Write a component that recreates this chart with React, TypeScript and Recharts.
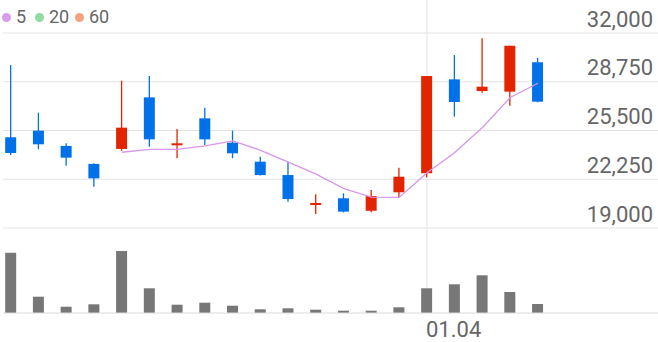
import React from "react";
import { ComposedChart, Bar, Line, XAxis, YAxis, CartesianGrid } from "recharts";

const dates = ["12.09","12.10","12.11","12.14","12.15","12.16","12.17","12.18","12.21","12.22","12.23","12.24","12.28","12.29","12.30","01.04","01.05","01.06","01.07","01.08"];
const opens = [25050, 25490, 24470, 23270, 24270, 27710, 24580, 26310, 24690, 23420, 22530, 20600, 20980, 20150, 21380, 22650, 28910, 28130, 28090, 30050];
const highs = [29870, 26690, 24650, 23310, 28820, 29130, 25600, 27020, 25490, 23750, 23420, 21250, 21310, 21530, 23020, 29130, 30530, 31650, 31150, 30350];
const lows = [23870, 24250, 23150, 21750, 24150, 24420, 23650, 24530, 23650, 22500, 20750, 19930, 20040, 20050, 21020, 22380, 26420, 28020, 27150, 27380];
const closes = [24000, 24580, 23690, 22310, 25690, 24910, 24580, 24910, 23980, 22530, 20930, 20600, 20090, 21130, 22420, 29130, 27400, 28420, 31150, 27420];
const ma5 = [null, null, null, null, 24050, 24240, 24240, 24480, 24810, 24180, 23390, 22590, 21630, 21060, 21040, 22680, 24030, 25700, 27700, 28650];
const volumes = [603, 163, 63, 87, 620, 247, 83, 103, 73, 37, 47, 33, 23, 23, 57, 247, 287, 377, 210, 90];
const priceTicks = [19000, 22250, 25500, 28750, 32000];
const dateTicks = ["01.04"];
const legendItems = [
  { name: "5", color: "#d99ce9" },
  { name: "20", color: "#8fdba0" },
  { name: "60", color: "#f6a27e" },
];

const RED = "#e32400";
const BLUE = "#0071e8";
const GRID = "#e3e3e3";
const TEXT = "#666666";
const FONT = "Roboto, 'Noto Sans', sans-serif";

const rows = dates.map((d, i) => ({
  i,
  date: d,
  open: opens[i],
  high: highs[i],
  low: lows[i],
  close: closes[i],
  ma5: ma5[i],
  volume: volumes[i],
}));

const X_DOMAIN: [number, number] = [-0.29, 23.33];
const xTickIdx = dateTicks.map((d) => dates.indexOf(d));

const scaleOf = (axis: any) => {
  const s = axis && axis.scale;
  if (typeof s === "function") return s;
  if (s && typeof s.map === "function") return (v: number) => s.map(v);
  return null;
};

const Candle = (props: any) => {
  const { x, y, width, height } = props;
  const p = props.payload ?? props;
  const { open, close, high, low } = p;
  if (x == null || y == null) return null;
  const top = Math.min(y, y + height);
  const bot = Math.max(y, y + height);
  const cx = x + width / 2;
  const up = close >= open;
  const color = up ? RED : BLUE;
  const ratio = (bot - top) / (high - low);
  const yOf = (v: number) => top + (high - v) * ratio;
  let bTop = yOf(Math.max(open, close));
  let bBot = yOf(Math.min(open, close));
  if (bBot - bTop < 2) {
    const mid = (bTop + bBot) / 2;
    bTop = mid - 1;
    bBot = mid + 1;
  }
  return (
    <g>
      <line x1={cx} x2={cx} y1={top} y2={bot} stroke={color} strokeWidth={1.3} />
      <rect x={cx - 5.5} y={bTop} width={11} height={bBot - bTop} fill={color} />
    </g>
  );
};

const PriceTick = (props: any) => {
  const { y, payload } = props;
  return (
    <g>
      <text x={653} y={y - 6.5} textAnchor="end" fill={TEXT} fontSize={22} fontFamily={FONT}>
        {Number(payload.value).toLocaleString("en-US")}
      </text>
    </g>
  );
};

const DateTick = (props: any) => {
  const { x, payload } = props;
  return (
    <text x={x - 1} y={109} textAnchor="start" fill={TEXT} fontSize={22} fontFamily={FONT}>
      {dates[payload.value]}
    </text>
  );
};

const EmptyTick = () => <g />;

export default function App() {
  return (
    <div style={{ position: "absolute", left: 0, top: 0, width: 658, height: 342, background: "#fff", fontFamily: FONT }}>
      <div style={{ position: "absolute", left: 0, top: 0 }}>
        <ComposedChart width={658} height={229} data={rows} margin={{ top: 0, right: 0, bottom: 1, left: 3 }}>
          <CartesianGrid
            stroke={GRID}
            strokeWidth={1}
            horizontalCoordinatesGenerator={({ yAxis }: any) => {
              const s = scaleOf(yAxis);
              return s ? priceTicks.map((v) => s(v)) : [];
            }}
            verticalCoordinatesGenerator={({ xAxis }: any) => {
              const s = scaleOf(xAxis);
              return s ? xTickIdx.map((v) => s(v)) : [];
            }}
          />
          <XAxis
            dataKey="i"
            type="number"
            domain={X_DOMAIN}
            allowDataOverflow
            ticks={xTickIdx}
            height={0}
            tick={<EmptyTick />}
            axisLine={false}
            tickLine={false}
          />
          <YAxis
            orientation="right"
            mirror
            width={80}
            type="number"
            domain={[19000, 34200]}
            allowDataOverflow
            ticks={priceTicks}
            interval={0}
            axisLine={false}
            tickLine={false}
            tick={<PriceTick />}
          />
          <Line
            dataKey="ma5"
            type="linear"
            stroke="#d896ea"
            strokeWidth={1.3}
            dot={false}
            activeDot={false}
            isAnimationActive={false}
          />
          <Bar
            dataKey={(d: any) => [d.low, d.high]}
            barSize={11}
            shape={<Candle />}
            isAnimationActive={false}
          />
        </ComposedChart>
      </div>
      <div style={{ position: "absolute", left: 0, top: 228 }}>
        <ComposedChart width={658} height={114} data={rows} margin={{ top: 0, right: 0, bottom: 0, left: 3 }}>
          <CartesianGrid
            stroke={GRID}
            horizontal={false}
            verticalCoordinatesGenerator={({ xAxis }: any) => {
              const s = scaleOf(xAxis);
              return s ? xTickIdx.map((v) => s(v)) : [];
            }}
          />
          <XAxis
            dataKey="i"
            type="number"
            domain={X_DOMAIN}
            allowDataOverflow
            ticks={xTickIdx}
            height={29}
            interval={0}
            tickLine={false}
            axisLine={{ stroke: "#dadada" }}
            tick={<DateTick />}
          />
          <YAxis hide type="number" domain={[0, 850]} allowDataOverflow />
          <Bar dataKey="volume" barSize={11} fill="#777777" isAnimationActive={false} />
        </ComposedChart>
      </div>
      <div style={{ position: "absolute", left: 0, top: 0, width: 200, height: 34 }}>
        {legendItems.map((it, k) => (
          <div
            key={it.name}
            style={{
              position: "absolute",
              left: [2, 35, 75][k],
              top: 6,
              display: "flex",
              alignItems: "center",
              height: 22,
            }}
          >
            <span
              style={{
                display: "inline-block",
                width: 9,
                height: 9,
                borderRadius: "50%",
                background: it.color,
                marginRight: 5,
              }}
            />
            <span style={{ fontSize: 18, color: TEXT, lineHeight: "22px" }}>{it.name}</span>
          </div>
        ))}
      </div>
    </div>
  );
}
